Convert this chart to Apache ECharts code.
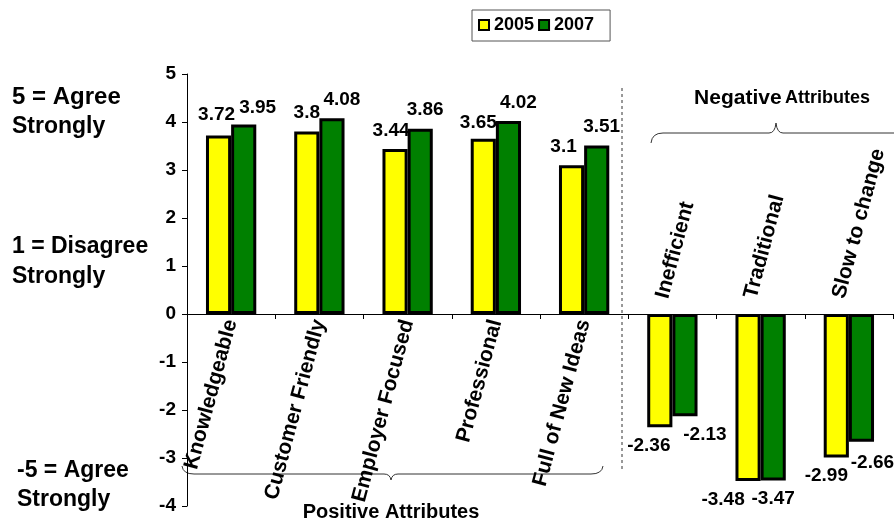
<!DOCTYPE html>
<html><head><meta charset="utf-8">
<script src="https://cdn.jsdelivr.net/npm/echarts@6/dist/echarts.min.js"></script>
<style>html,body{margin:0;padding:0;background:#fff}#c{width:894px;height:522px}</style>
</head><body><div id="c"></div>
<script>
const categories = ['Knowledgeable','Customer Friendly','Employer Focused','Professional','Full of New Ideas','Inefficient','Traditional','Slow to change'];
const seriesNames = ['2005','2007'];
const values2005 = [3.72, 3.8, 3.44, 3.65, 3.1, -2.36, -3.48, -2.99];
const values2007 = [3.95, 4.08, 3.86, 4.02, 3.51, -2.13, -3.47, -2.66];
const yMin = -4, yMax = 5, yInterval = 1;
const positiveCount = 5;

// manual nudges of data labels (as in the original)
const nudge2005 = [[-2,-2],[0,0],[-4,0],[-5,2],[-8,0],[-11,0],[-25,0],[-10,0]];
const nudge2007 = [[14,2],[10,0],[5,0],[10,0],[5,0],[20,0],[0,0],[11,3]];

const FONT = "'Liberation Sans', Arial, sans-serif";
const colors = ['#FFFF00', '#008000'];

function buildData(vals, nudges) {
  return vals.map((v, i) => ({
    value: v,
    label: { position: v >= 0 ? 'top' : 'bottom', offset: nudges[i] }
  }));
}

const lineStyle = { stroke: '#333', lineWidth: 1, fill: null };
function brace(x1, x2, xm, yLine, yEnd, yTip) {
  const r = 12;
  return [
    { type: 'bezierCurve', shape: { x1: x1, y1: yEnd, cpx1: x1 + 1, cpy1: yLine, x2: x1 + r, y2: yLine }, style: lineStyle },
    { type: 'line', shape: { x1: x1 + r, y1: yLine, x2: xm - 7, y2: yLine }, style: lineStyle },
    { type: 'bezierCurve', shape: { x1: xm - 7, y1: yLine, cpx1: xm - 1, cpy1: yLine, x2: xm, y2: yTip }, style: lineStyle },
    { type: 'bezierCurve', shape: { x1: xm, y1: yTip, cpx1: xm + 1, cpy1: yLine, x2: xm + 7, y2: yLine }, style: lineStyle },
    { type: 'line', shape: { x1: xm + 7, y1: yLine, x2: x2 - r, y2: yLine }, style: lineStyle },
    { type: 'bezierCurve', shape: { x1: x2 - r, y1: yLine, cpx1: x2 - 1, cpy1: yLine, x2: x2, y2: yEnd }, style: lineStyle }
  ];
}

const chart = echarts.init(document.getElementById('c'), null, {renderer: 'canvas'});
const labelBase = { show: true, color: '#000', fontFamily: FONT, fontWeight: 'bold', fontSize: 19, distance: 9 };

chart.setOption({
  animation: false,
  backgroundColor: '#fff',
  textStyle: { fontFamily: FONT },
  legend: {
    data: seriesNames,
    left: 472, top: 10,
    padding: [6, 16, 7, 6],
    itemGap: 4,
    itemWidth: 10, itemHeight: 10,
    icon: 'rect',
    borderColor: '#555', borderWidth: 1,
    textStyle: { color: '#000', fontWeight: 'bold', fontSize: 18, fontFamily: FONT },
    itemStyle: { borderColor: '#000', borderWidth: 2 }
  },
  grid: [
    { left: 187, right: 1, top: 74, bottom: 16, containLabel: false, outerBoundsMode: 'none' },
    // helper grid, shifted slightly left, only carries the labels of the negative attributes
    { left: 177, right: 11, top: 74, bottom: 16, containLabel: false, outerBoundsMode: 'none' }
  ],
  xAxis: [{
    type: 'category', gridIndex: 0,
    data: categories,
    position: 'bottom',
    axisLine: { onZero: false, lineStyle: { color: '#000', width: 1 } },
    axisTick: { show: true, length: 5, lineStyle: { color: '#000' } },
    axisLabel: {
      interval: 0, rotate: 75, margin: 6,
      color: '#000', fontWeight: 'bold', fontSize: 21, fontFamily: FONT,
      formatter: (v, i) => i < positiveCount ? v : ''
    },
    splitLine: { show: false }
  }, {
    type: 'category', gridIndex: 1,
    data: categories,
    position: 'bottom',
    axisLine: { show: false, onZero: false },
    axisTick: { show: false },
    axisLabel: {
      interval: 0, rotate: 75, margin: 16, inside: true,
      color: '#000', fontWeight: 'bold', fontSize: 21, fontFamily: FONT,
      formatter: (v, i) => i >= positiveCount ? v : ''
    },
    splitLine: { show: false }
  }],
  yAxis: [{
    type: 'value', gridIndex: 0,
    min: yMin, max: yMax, interval: yInterval,
    axisLine: { show: true, lineStyle: { color: '#000', width: 1 } },
    axisTick: { show: true, length: 5, lineStyle: { color: '#000' } },
    axisLabel: { color: '#000', fontWeight: 'bold', fontSize: 19, fontFamily: FONT, margin: 11 },
    splitLine: { show: false }
  }, {
    type: 'value', gridIndex: 1,
    min: yMin, max: yMax, interval: yInterval,
    show: false,
    splitLine: { show: false }
  }],
  series: [{
    name: seriesNames[0], type: 'bar', xAxisIndex: 0, yAxisIndex: 0,
    data: buildData(values2005, nudge2005),
    barGap: '0%', barCategoryGap: '43%',
    itemStyle: { color: colors[0], borderColor: '#000', borderWidth: 3 },
    label: labelBase
  }, {
    name: seriesNames[1], type: 'bar', xAxisIndex: 0, yAxisIndex: 0,
    data: buildData(values2007, nudge2007),
    barGap: '0%', barCategoryGap: '43%',
    itemStyle: { color: colors[1], borderColor: '#000', borderWidth: 3 },
    label: labelBase
  }],
  graphic: [
    { type: 'text', x: 12, y: 97, style: { text: '5 = Agree', font: 'bold 24px ' + FONT, fill: '#000', verticalAlign: 'middle' } },
    { type: 'text', x: 12, y: 127, style: { text: 'Strongly', font: 'bold 23px ' + FONT, fill: '#000', verticalAlign: 'middle' } },
    { type: 'text', x: 12, y: 247, style: { text: '1 = Disagree', font: 'bold 23px ' + FONT, fill: '#000', verticalAlign: 'middle' } },
    { type: 'text', x: 12, y: 277, style: { text: 'Strongly', font: 'bold 23px ' + FONT, fill: '#000', verticalAlign: 'middle' } },
    { type: 'text', x: 17, y: 471, style: { text: '-5 = Agree', font: 'bold 23px ' + FONT, fill: '#000', verticalAlign: 'middle' } },
    { type: 'text', x: 17, y: 500, style: { text: 'Strongly', font: 'bold 23px ' + FONT, fill: '#000', verticalAlign: 'middle' } },
    { type: 'line', shape: { x1: 622, y1: 88, x2: 622, y2: 470 }, style: { stroke: '#333', lineWidth: 1, lineDash: [3, 3] } },
    { type: 'group', children: brace(182, 603, 391, 474, 466, 480) },
    { type: 'group', children: brace(651, 906, 776, 133, 143, 123) },
    { type: 'text', x: 391, y: 512, style: { text: 'Positive Attributes', font: 'bold 20px ' + FONT, fill: '#000', align: 'center', verticalAlign: 'middle' } },
    { type: 'text', x: 782, y: 98, style: { text: '{a|Negative} {b|Attributes}', fill: '#000', align: 'center', verticalAlign: 'middle',
        rich: { a: { font: 'bold 21px ' + FONT, fill: '#000' }, b: { font: 'bold 18px ' + FONT, fill: '#000' } } } }
  ]
});

// place the category axes on the zero line of the value axis
const zeroY = chart.convertToPixel({ yAxisIndex: 0 }, 0);
const bottomY = chart.convertToPixel({ yAxisIndex: 0 }, yMin);
const off = zeroY - bottomY;
chart.setOption({ xAxis: [{ offset: off }, { offset: off }] });
</script></body></html>
